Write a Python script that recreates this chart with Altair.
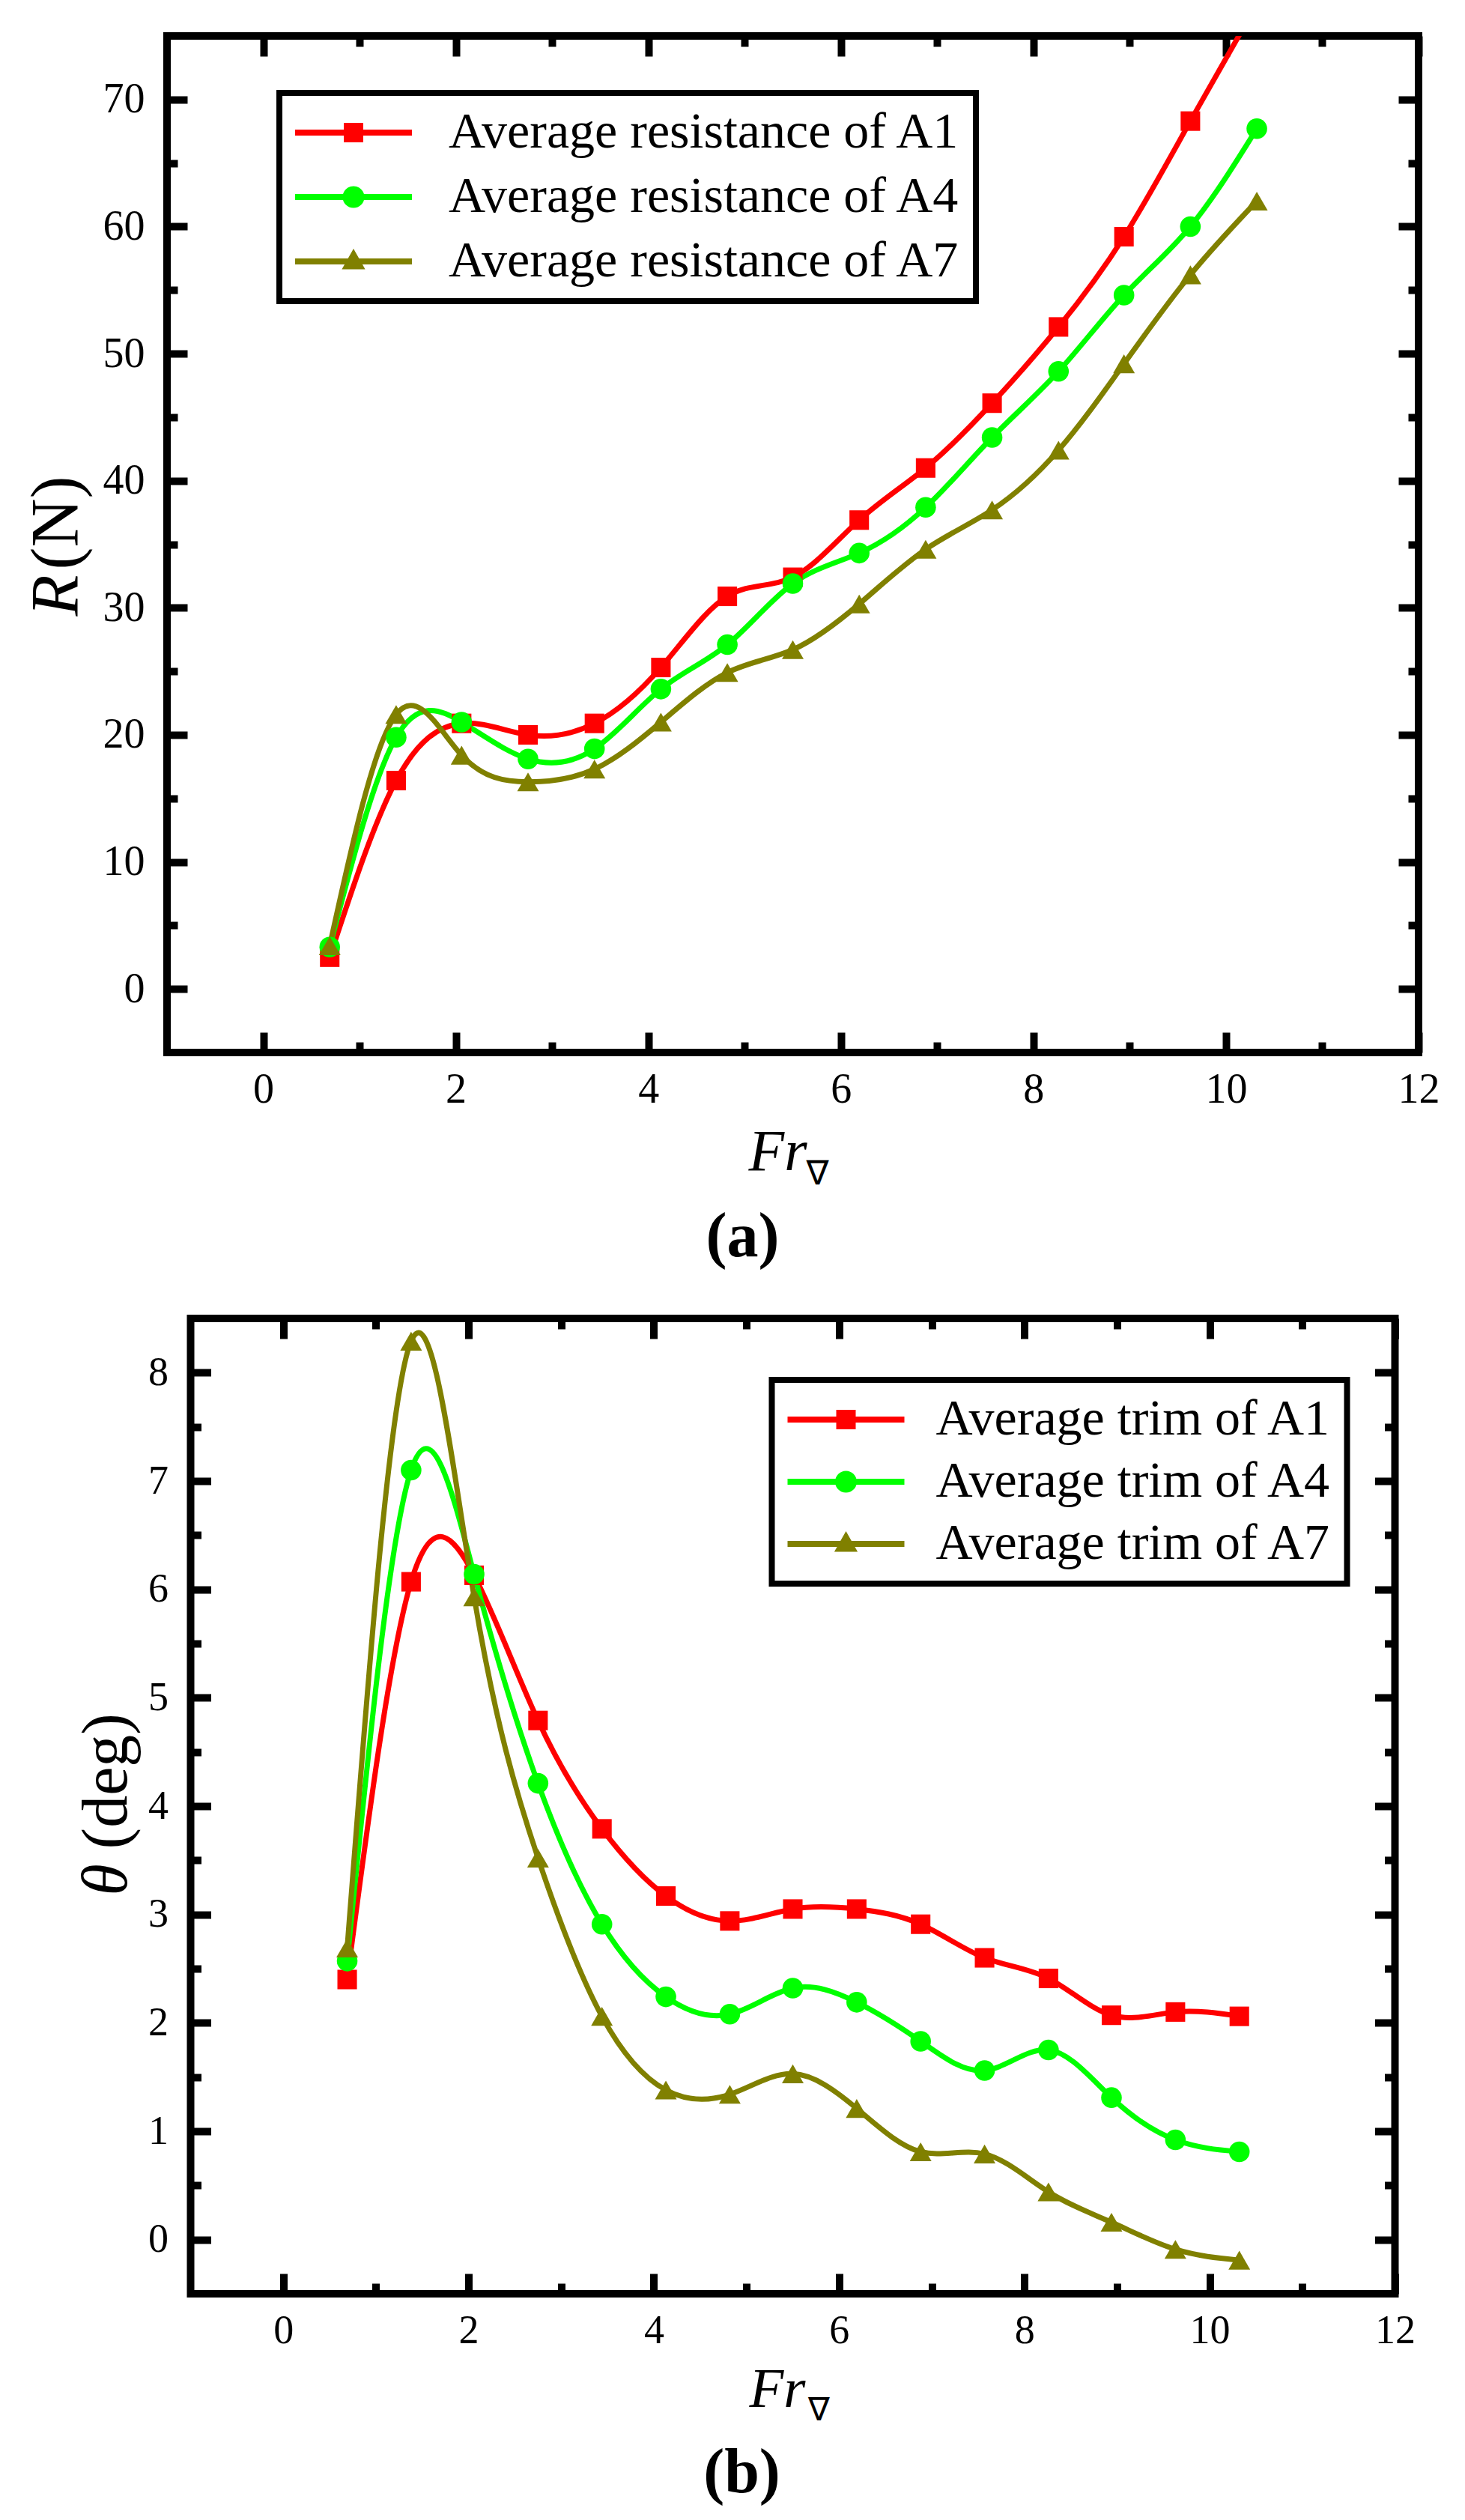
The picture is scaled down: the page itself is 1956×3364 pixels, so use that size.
import altair as alt
import pandas as pd

# Froude number (volumetric) at the measured speeds
fr = [0.69, 1.38, 2.06, 2.75, 3.44, 4.13, 4.82, 5.50, 6.19, 6.88, 7.57, 8.26, 8.94, 9.63, 10.32]

series = ["A1", "A4", "A7"]
colors = ["#ff0000", "#00ff00", "#808000"]
shapes = ["square", "circle", "triangle-up"]
sizes = [680, 840, 1000]

# (a) average resistance R (N)
res_a1 = [2.5, 16.4, 20.9, 20.0, 20.9, 25.3, 30.9, 32.4, 36.9, 41.0, 46.1, 52.1, 59.2, 68.3, 77.5]
res_a4 = [3.3, 19.8, 21.0, 18.1, 18.9, 23.6, 27.1, 31.9, 34.3, 37.9, 43.4, 48.6, 54.6, 60.0, 67.7]
res_a7 = [3.4, 21.6, 18.4, 16.3, 17.3, 21.0, 24.9, 26.7, 30.3, 34.6, 37.7, 42.4, 49.2, 56.2, 62.0]

# (b) average trim theta (deg)
trim_a1 = [2.40, 6.07, 6.13, 4.79, 3.79, 3.17, 2.94, 3.05, 3.05, 2.91, 2.60, 2.41, 2.07, 2.10, 2.06]
trim_a4 = [2.57, 7.10, 6.14, 4.21, 2.91, 2.24, 2.08, 2.32, 2.19, 1.83, 1.56, 1.75, 1.31, 0.92, 0.81]
trim_a7 = [2.69, 8.29, 5.93, 3.52, 2.06, 1.38, 1.34, 1.53, 1.21, 0.81, 0.79, 0.44, 0.16, -0.09, -0.19]

labels_a = ["Average resistance of A1", "Average resistance of A4", "Average resistance of A7"]
labels_b = ["Average trim of A1", "Average trim of A4", "Average trim of A7"]

# legend symbols: line segment with the marker in the middle
seg = "M-6,-0.3H6V0.3H-6Z "
legend_paths = [
    seg + "M-1,-1H1V1H-1Z",
    seg + "M-1.12,0A1.12,1.12 0 1,1 1.12,0A1.12,1.12 0 1,1 -1.12,0Z",
    seg + "M0,-1.3L1.2,0.8H-1.2Z",
]

SERIF = "Liberation Serif"
x_major = [0, 2, 4, 6, 8, 10, 12]
x_minor = [1, 3, 5, 7, 9, 11]


def long_table(values, labels):
    rows = []
    for s, lab, vals in zip(series, labels, values):
        for f, v in zip(fr, vals):
            rows.append({"fr": f, "val": v, "series": s, "label": lab})
    return pd.DataFrame(rows)


def ax(orient, length, values, **kw):
    return alt.Axis(orient=orient, offset=-length, tickSize=length, tickWidth=10,
                    tickColor="black", values=values, domain=False, grid=False, **kw)


def panel(df, labels, ydom, y_major, y_minor, W, H, t, leg, caption):
    xs = alt.Scale(domain=[-1, 12], nice=False, zero=False)
    ys = alt.Scale(domain=ydom, nice=False, zero=False)
    base = alt.Chart(df)

    lab_kw = dict(labels=True, labelFont=SERIF, labelColor="black",
                  labelFontSize=t["tick"], labelFlush=False, labelOverlap=False)

    x_bot = ax("bottom", 27, x_major, labelPadding=22, **lab_kw,
               title="Fr", titleFont=SERIF, titleFontSize=t["fr"], titleFontStyle="italic",
               titleFontWeight="normal", titleColor="black", titleX=t["fr_x"], titleY=t["fr_y"],
               titleAlign="center", titleBaseline="alphabetic")
    y_left = ax("left", 27, y_major, labelPadding=30, **lab_kw,
                title=t["y1"], titleFont=SERIF, titleFontSize=t["ytitle"], titleFontStyle="italic",
                titleFontWeight="normal", titleColor="black", titleX=t["y1_x"], titleY=t["y1_y"],
                titleAngle=270, titleAlign="left", titleBaseline="alphabetic")
    x_bot_minor = ax("bottom", 14, x_minor, labels=False,
                     title="\u2207", titleFont="DejaVu Sans", titleFontSize=t["nabla"],
                     titleFontWeight="normal", titleColor="black", titleX=t["nb_x"], titleY=t["nb_y"],
                     titleAlign="left", titleBaseline="alphabetic")
    y_left_minor = ax("left", 14, y_minor, labels=False,
                      title=t["y2"], titleFont=SERIF, titleFontSize=t["ytitle"],
                      titleFontWeight="normal", titleColor="black", titleX=t["y2_x"], titleY=t["y2_y"],
                      titleAngle=270, titleAlign="left", titleBaseline="alphabetic")

    lines = base.mark_line(interpolate="natural", strokeWidth=7, clip=True).encode(
        x=alt.X("fr:Q", scale=xs, axis=x_bot),
        y=alt.Y("val:Q", scale=ys, axis=y_left),
        color=alt.Color("series:N", scale=alt.Scale(domain=series, range=colors), legend=None),
    )

    points = base.mark_point(filled=True, opacity=1, strokeWidth=0, clip=True).encode(
        x=alt.X("fr:Q", scale=xs, axis=x_bot_minor),
        y=alt.Y("val:Q", scale=ys, axis=y_left_minor),
        color=alt.Color("series:N", scale=alt.Scale(domain=series, range=colors), legend=None),
        shape=alt.Shape("series:N", scale=alt.Scale(domain=series, range=shapes), legend=None),
        size=alt.Size("series:N", scale=alt.Scale(domain=series, range=sizes), legend=None),
    )

    legend = alt.Legend(title=None, orient="none", legendX=leg["x"], legendY=leg["y"],
                        padding=19, rowPadding=leg["row"], strokeColor="black",
                        labelFont=SERIF, labelFontSize=leg["font"], labelColor="black",
                        labelLimit=2000, symbolSize=676, symbolStrokeWidth=0,
                        symbolOffset=leg["sym"], labelOffset=leg["lab"])
    key = base.transform_filter("false").mark_point(filled=True, opacity=1, size=676, strokeWidth=0).encode(
        x=alt.X("fr:Q", scale=xs, axis=ax("top", 27, x_major, labels=False, title="")),
        y=alt.Y("val:Q", scale=ys, axis=ax("right", 27, y_major, labels=False, title="")),
        color=alt.Color("label:N", scale=alt.Scale(domain=labels, range=colors), legend=legend),
        shape=alt.Shape("label:N", scale=alt.Scale(domain=labels, range=legend_paths), legend=legend),
    )

    frame = base.transform_filter("false").mark_point().encode(
        x=alt.X("fr:Q", scale=xs, axis=ax("top", 14, x_minor, labels=False, title="")),
        y=alt.Y("val:Q", scale=ys, axis=ax("right", 14, y_minor, labels=False, title="")),
    )

    return alt.layer(lines, points, key, frame).resolve_scale(
        color="independent", shape="independent", size="independent"
    ).resolve_axis(x="independent", y="independent").properties(
        width=W, height=H,
        title=alt.TitleParams(text=caption, orient="bottom", anchor="middle", font=SERIF,
                              fontSize=84, fontWeight="bold", color="black",
                              offset=t["cap_off"], dx=t["cap_dx"]),
    )


df_a = long_table([res_a1, res_a4, res_a7], labels_a)
df_b = long_table([trim_a1, trim_a4, trim_a7], labels_b)

chart_a = panel(
    df_a, labels_a, [-5, 75], list(range(0, 71, 10)), list(range(5, 66, 10)), 1671, 1357,
    dict(tick=56, fr=78, fr_x=815, fr_y=183, nabla=45, nb_x=853, nb_y=189,
         ytitle=90, y1="R", y1_x=-147, y1_y=774, y2="(N)", y2_x=-134, y2_y=712,
         cap_off=22, cap_dx=-67),
    dict(x=150, y=76, row=18, font=68, sym=46, lab=93),
    "(a)",
)

chart_b = panel(
    df_b, labels_b, [-0.5, 8.5], list(range(0, 9)), [0.5, 1.5, 2.5, 3.5, 4.5, 5.5, 6.5, 7.5], 1608, 1302,
    dict(tick=54, fr=75, fr_x=783, fr_y=177, nabla=43, nb_x=824, nb_y=182,
         ytitle=86, y1="\u03b8", y1_x=-113, y1_y=770, y2="(deg)", y2_x=-100, y2_y=708,
         cap_off=22, cap_dx=-68),
    dict(x=776, y=82, row=15, font=68, sym=46, lab=86),
    "(b)",
)

chart = alt.vconcat(chart_a, chart_b, spacing=355, bounds="flush", center=True).properties(
    padding={"left": 18, "top": 30, "right": 10, "bottom": 10}
).configure(font=SERIF).configure_view(stroke="black", strokeWidth=10).configure_legend(strokeWidth=8)

chart.save("out.html", embed_options={"renderer": "svg", "actions": False})
